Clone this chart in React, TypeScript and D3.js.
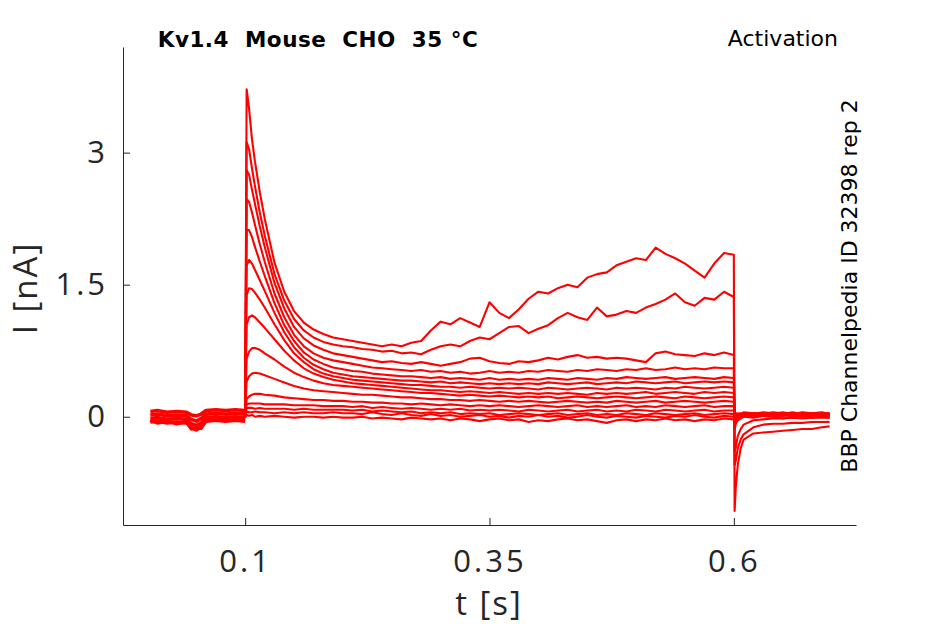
import { useRef, useEffect } from 'react'
import * as d3 from 'd3'

const WIDTH = 945
const HEIGHT = 624
const PLOT = { left: 123, right: 856, top: 47, bottom: 525 }

const X_TICKS = [0.1, 0.35, 0.6]
const Y_TICKS = [0, 1.5, 3]

// holding period before the step (s)
const PRE_T = [0.003, 0.01, 0.02, 0.03, 0.04, 0.045, 0.05, 0.055, 0.06, 0.07, 0.08, 0.09, 0.1]
// test pulse 0.1 .. 0.6 s
const STEP_T = [
  0.1, 0.1015, 0.104, 0.107, 0.11, 0.115, 0.12, 0.13, 0.14, 0.15, 0.16, 0.17, 0.18, 0.19, 0.2,
  0.21, 0.22, 0.23, 0.24, 0.25, 0.26, 0.27, 0.28, 0.29, 0.3, 0.31, 0.32, 0.33, 0.34, 0.35, 0.36, 0.37, 0.38, 0.39, 0.4,
  0.41, 0.42, 0.43, 0.44, 0.45, 0.46, 0.47, 0.48, 0.49, 0.5, 0.51, 0.52, 0.53, 0.54, 0.55, 0.56, 0.57, 0.58, 0.59, 0.6,
]
// tail currents after the pulse
const TAIL_T = [0.6008, 0.602, 0.604, 0.607, 0.61, 0.62, 0.63, 0.64, 0.65, 0.66, 0.67, 0.68, 0.69, 0.698]

// baseline noise before the step (nA)
const base1 = [0.06, 0.07, 0.05, 0.06, 0.05, 0.02, 0.01, 0.03, 0.07, 0.08, 0.07, 0.08, 0.07]
const base2 = [0.02, 0.03, 0.01, 0.02, 0.01, -0.03, -0.05, -0.02, 0.03, 0.04, 0.03, 0.04, 0.03]
const base3 = [-0.02, -0.01, -0.03, -0.02, -0.03, -0.08, -0.1, -0.07, -0.01, 0.0, -0.01, 0.0, -0.01]
const base4 = [-0.06, -0.05, -0.07, -0.06, -0.07, -0.12, -0.15, -0.11, -0.05, -0.04, -0.05, -0.04, -0.05]
const base5 = [-0.04, -0.07, -0.05, -0.08, -0.06, -0.14, -0.13, -0.13, -0.04, -0.02, -0.03, -0.02, -0.03]

// step currents (nA), one per sweep
const sweep01 = [
  0.02, 3.72, 3.5, 3.15, 2.9, 2.55, 2.25, 1.75, 1.42, 1.2, 1.07, 0.99, 0.94, 0.9, 0.88,
  0.86, 0.84, 0.82, 0.8, 0.82, 0.8, 0.84, 0.86, 0.98, 1.08, 1.05, 1.12, 1.07, 1.02, 1.3, 1.18, 1.12, 1.22, 1.34, 1.42,
  1.4, 1.46, 1.5, 1.47, 1.58, 1.62, 1.64, 1.72, 1.76, 1.8, 1.78, 1.92, 1.85, 1.8, 1.74, 1.66, 1.58, 1.74, 1.86, 1.84,
]
const sweep02 = [
  0.0, 3.12, 3.04, 2.82, 2.62, 2.32, 2.06, 1.62, 1.32, 1.11, 0.98, 0.9, 0.85, 0.82, 0.8,
  0.79, 0.77, 0.76, 0.74, 0.75, 0.72, 0.73, 0.71, 0.76, 0.8, 0.82, 0.8, 0.86, 0.9, 0.88, 0.95, 1.02, 1.03, 0.95, 1.0,
  1.04, 1.12, 1.18, 1.13, 1.1, 1.24, 1.14, 1.16, 1.2, 1.18, 1.24, 1.28, 1.33, 1.4, 1.3, 1.26, 1.35, 1.33, 1.42, 1.36,
]
const sweep03 = [
  0.01, 2.8, 2.75, 2.58, 2.42, 2.16, 1.93, 1.52, 1.23, 1.02, 0.89, 0.81, 0.76, 0.72, 0.7,
  0.68, 0.66, 0.64, 0.62, 0.63, 0.61, 0.6, 0.62, 0.6, 0.58, 0.6, 0.62, 0.66, 0.67, 0.63, 0.61, 0.6, 0.63, 0.62, 0.64,
  0.67, 0.65, 0.68, 0.7, 0.67, 0.68, 0.66, 0.67, 0.66, 0.64, 0.62, 0.72, 0.74, 0.71, 0.7, 0.69, 0.72, 0.7, 0.73, 0.7,
]
const sweep04 = [
  0.03, 2.47, 2.44, 2.32, 2.18, 1.96, 1.76, 1.4, 1.13, 0.93, 0.8, 0.72, 0.67, 0.64, 0.62,
  0.6, 0.58, 0.56, 0.55, 0.54, 0.53, 0.52, 0.53, 0.51, 0.52, 0.5, 0.51, 0.49, 0.5, 0.52, 0.5, 0.51, 0.5, 0.52, 0.51,
  0.53, 0.52, 0.51, 0.53, 0.52, 0.54, 0.53, 0.52, 0.54, 0.53, 0.55, 0.53, 0.54, 0.56, 0.54, 0.55, 0.54, 0.56, 0.55, 0.55,
]
const sweep05 = [
  -0.01, 2.12, 2.12, 2.04, 1.93, 1.76, 1.6, 1.29, 1.04, 0.86, 0.73, 0.65, 0.6, 0.56, 0.54,
  0.52, 0.51, 0.49, 0.48, 0.47, 0.46, 0.46, 0.45, 0.44, 0.45, 0.43, 0.44, 0.43, 0.42, 0.44, 0.42, 0.43, 0.42, 0.43, 0.42,
  0.44, 0.43, 0.42, 0.44, 0.43, 0.42, 0.44, 0.43, 0.45, 0.44, 0.43, 0.44, 0.45, 0.43, 0.44, 0.45, 0.44, 0.43, 0.45, 0.44,
]
const sweep06 = [
  0.02, 1.72, 1.78, 1.74, 1.67, 1.55, 1.43, 1.18, 0.96, 0.79, 0.67, 0.59, 0.54, 0.5, 0.48,
  0.46, 0.45, 0.44, 0.43, 0.42, 0.41, 0.41, 0.4, 0.39, 0.4, 0.38, 0.39, 0.38, 0.37, 0.38, 0.37, 0.38, 0.37, 0.38, 0.37,
  0.39, 0.38, 0.37, 0.38, 0.39, 0.37, 0.38, 0.39, 0.38, 0.4, 0.39, 0.38, 0.39, 0.4, 0.38, 0.39, 0.4, 0.39, 0.4, 0.39,
]
const sweep07 = [
  0.0, 1.38, 1.46, 1.45, 1.41, 1.33, 1.24, 1.05, 0.87, 0.72, 0.62, 0.54, 0.49, 0.46, 0.44,
  0.42, 0.41, 0.4, 0.39, 0.38, 0.37, 0.36, 0.36, 0.35, 0.34, 0.34, 0.33, 0.34, 0.33, 0.32, 0.33, 0.32, 0.33, 0.32, 0.31,
  0.33, 0.32, 0.31, 0.32, 0.33, 0.32, 0.31, 0.33, 0.32, 0.33, 0.32, 0.31, 0.33, 0.32, 0.34, 0.33, 0.32, 0.33, 0.34, 0.33,
]
const sweep08 = [
  0.04, 1.05, 1.13, 1.15, 1.13, 1.07, 1.01, 0.88, 0.75, 0.64, 0.55, 0.49, 0.45, 0.42, 0.4,
  0.38, 0.37, 0.36, 0.35, 0.34, 0.33, 0.32, 0.31, 0.3, 0.3, 0.29, 0.28, 0.29, 0.28, 0.27, 0.28, 0.27, 0.26, 0.27, 0.26,
  0.27, 0.26, 0.27, 0.26, 0.25, 0.27, 0.26, 0.27, 0.26, 0.27, 0.28, 0.26, 0.27, 0.28, 0.27, 0.26, 0.28, 0.27, 0.28, 0.27,
]
const sweep09 = [
  0.01, 0.66, 0.74, 0.78, 0.78, 0.76, 0.72, 0.65, 0.57, 0.5, 0.45, 0.41, 0.38, 0.36, 0.35,
  0.34, 0.33, 0.32, 0.31, 0.3, 0.29, 0.28, 0.27, 0.27, 0.26, 0.25, 0.24, 0.25, 0.24, 0.23, 0.24, 0.23, 0.22, 0.23, 0.22,
  0.23, 0.21, 0.22, 0.23, 0.22, 0.21, 0.22, 0.23, 0.22, 0.21, 0.22, 0.23, 0.22, 0.21, 0.23, 0.22, 0.21, 0.22, 0.23, 0.22,
]
const sweep10 = [
  0.03, 0.4, 0.46, 0.49, 0.5, 0.49, 0.47, 0.43, 0.39, 0.35, 0.32, 0.3, 0.29, 0.28, 0.27,
  0.26, 0.25, 0.25, 0.24, 0.23, 0.22, 0.22, 0.21, 0.2, 0.2, 0.19, 0.19, 0.18, 0.19, 0.18, 0.17, 0.18, 0.17, 0.18, 0.17,
  0.16, 0.17, 0.18, 0.17, 0.16, 0.17, 0.16, 0.18, 0.17, 0.16, 0.17, 0.18, 0.16, 0.17, 0.18, 0.17, 0.16, 0.17, 0.18, 0.17,
]
const sweep11 = [
  0.0, 0.2, 0.23, 0.25, 0.26, 0.26, 0.25, 0.24, 0.22, 0.21, 0.2, 0.19, 0.19, 0.18, 0.18,
  0.17, 0.17, 0.16, 0.16, 0.15, 0.15, 0.14, 0.15, 0.14, 0.13, 0.14, 0.13, 0.12, 0.13, 0.12, 0.13, 0.12, 0.11, 0.12, 0.13,
  0.12, 0.11, 0.12, 0.13, 0.11, 0.12, 0.11, 0.12, 0.13, 0.11, 0.12, 0.11, 0.13, 0.12, 0.11, 0.12, 0.13, 0.11, 0.12, 0.12,
]
const sweep12 = [
  0.02, 0.14, 0.15, 0.15, 0.15, 0.15, 0.14, 0.14, 0.14, 0.13, 0.13, 0.13, 0.12, 0.12, 0.12,
  0.11, 0.12, 0.1, 0.11, 0.1, 0.09, 0.1, 0.09, 0.08, 0.09, 0.08, 0.09, 0.07, 0.08, 0.07, 0.08, 0.07, 0.06, 0.08, 0.07,
  0.06, 0.07, 0.08, 0.06, 0.07, 0.08, 0.06, 0.07, 0.06, 0.08, 0.07, 0.06, 0.08, 0.07, 0.06, 0.07, 0.08, 0.06, 0.07, 0.07,
]
const sweep13 = [
  0.01, 0.1, 0.1, 0.1, 0.09, 0.1, 0.09, 0.09, 0.09, 0.08, 0.09, 0.08, 0.08, 0.08, 0.08,
  0.07, 0.08, 0.06, 0.07, 0.06, 0.05, 0.06, 0.04, 0.05, 0.04, 0.05, 0.03, 0.04, 0.03, 0.04, 0.02, 0.03, 0.04, 0.03, 0.02,
  0.03, 0.04, 0.02, 0.03, 0.04, 0.02, 0.03, 0.02, 0.04, 0.03, 0.02, 0.04, 0.03, 0.02, 0.03, 0.04, 0.02, 0.03, 0.04, 0.03,
]
const sweep14 = [
  -0.01, 0.06, 0.05, 0.05, 0.06, 0.05, 0.05, 0.04, 0.05, 0.04, 0.05, 0.04, 0.04, 0.05, 0.04,
  0.04, 0.03, 0.05, 0.03, 0.02, 0.04, 0.02, 0.01, 0.03, 0.01, 0.02, 0.0, 0.01, 0.02, 0.0, 0.01, -0.01, 0.01, 0.0, 0.02,
  0.0, 0.01, -0.01, 0.0, 0.02, 0.0, -0.01, 0.01, 0.0, -0.01, 0.01, 0.0, -0.01, 0.01, 0.0, 0.02, 0.0, -0.01, 0.01, 0.0,
]
const sweep15 = [
  0.0, 0.02, 0.01, 0.02, 0.0, 0.01, 0.0, 0.01, 0.0, -0.01, 0.0, 0.0, -0.01, 0.0, -0.01,
  -0.01, 0.0, -0.02, -0.01, -0.02, -0.03, -0.01, -0.02, -0.03, -0.02, -0.04, -0.02, -0.03, -0.05, -0.03, -0.02, -0.04, -0.03, -0.06, -0.04,
  -0.05, -0.03, -0.02, -0.04, -0.03, -0.05, -0.07, -0.04, -0.03, -0.05, -0.03, -0.04, -0.02, -0.04, -0.03, -0.05, -0.03, -0.04, -0.02, -0.03,
]

// tail currents (nA), same sweep order
const tail01 = [-1.07, -0.8, -0.55, -0.36, -0.26, -0.19, -0.18, -0.17, -0.16, -0.15, -0.14, -0.14, -0.12, -0.11]
const tail02 = [-0.55, -0.5, -0.36, -0.26, -0.2, -0.12, -0.09, -0.08, -0.08, -0.07, -0.07, -0.06, -0.06, -0.06]
const tail03 = [-0.4, -0.35, -0.22, -0.14, -0.09, -0.04, -0.03, -0.02, -0.02, -0.01, -0.02, -0.01, -0.01, -0.01]
const tail04 = [-0.15, -0.08, -0.04, -0.02, 0.0, 0.01, 0.02, 0.01, 0.03, 0.02, 0.01, 0.03, 0.02, 0.02]
const tail05 = [-0.1, -0.05, -0.02, 0.0, 0.01, 0.02, 0.01, 0.03, 0.02, 0.01, 0.02, 0.03, 0.01, 0.02]
const tail06 = [-0.06, -0.03, 0.0, 0.01, 0.02, 0.01, 0.03, 0.02, 0.01, 0.03, 0.02, 0.01, 0.03, 0.01]
const tail07 = [-0.04, -0.01, 0.01, 0.02, 0.03, 0.02, 0.01, 0.03, 0.04, 0.02, 0.03, 0.02, 0.04, 0.03]
const tail08 = [-0.02, 0.0, 0.02, 0.03, 0.02, 0.04, 0.03, 0.02, 0.03, 0.04, 0.02, 0.03, 0.04, 0.02]
const tail09 = [0.0, 0.02, 0.03, 0.02, 0.04, 0.03, 0.02, 0.04, 0.03, 0.02, 0.04, 0.03, 0.02, 0.03]
const tail10 = [0.01, 0.03, 0.02, 0.04, 0.03, 0.02, 0.04, 0.03, 0.05, 0.03, 0.02, 0.04, 0.03, 0.04]
const tail11 = [0.02, 0.04, 0.03, 0.02, 0.04, 0.03, 0.05, 0.04, 0.03, 0.05, 0.03, 0.04, 0.05, 0.03]
const tail12 = [0.03, 0.02, 0.04, 0.03, 0.05, 0.04, 0.03, 0.05, 0.04, 0.03, 0.05, 0.04, 0.03, 0.04]
const tail13 = [0.02, 0.03, 0.01, 0.03, 0.02, 0.04, 0.02, 0.03, 0.01, 0.04, 0.02, 0.03, 0.02, 0.03]
const tail14 = [0.0, 0.01, 0.02, 0.0, 0.01, 0.03, 0.01, 0.0, 0.02, 0.01, 0.0, 0.02, 0.01, 0.0]
const tail15 = [-0.01, 0.0, -0.01, 0.01, 0.0, -0.01, 0.01, 0.0, -0.02, 0.0, 0.01, -0.01, 0.0, -0.01]

const BASELINES = [base1, base2, base3, base4, base5]
const STEPS = [sweep01, sweep02, sweep03, sweep04, sweep05, sweep06, sweep07, sweep08, sweep09, sweep10, sweep11, sweep12, sweep13, sweep14, sweep15]
const TAILS = [tail01, tail02, tail03, tail04, tail05, tail06, tail07, tail08, tail09, tail10, tail11, tail12, tail13, tail14, tail15]

const RED = '#ff0000'
const INK = '#262626'
const TICK_FONT = '"Open Sans", "Noto Sans", sans-serif'
const TEXT_FONT = '"DejaVu Sans", sans-serif'

export default function App() {
  const xAxisRef = useRef<SVGGElement>(null)
  const yAxisRef = useRef<SVGGElement>(null)

  const x = d3.scaleLinear().domain([-0.025, 0.725]).range([PLOT.left, PLOT.right])
  const y = d3.scaleLinear().domain([-1.23, 4.2]).range([PLOT.bottom, PLOT.top])
  const line = d3
    .line<[number, number]>()
    .x((d) => x(d[0]))
    .y((d) => y(d[1]))

  useEffect(() => {
    const gx = d3.select(xAxisRef.current!)
    gx.selectAll('*').remove()
    gx.call(
      d3
        .axisBottom(x)
        .tickValues(X_TICKS)
        .tickFormat((d) => String(d))
        .tickSizeInner(-7)
        .tickSizeOuter(0)
        .tickPadding(25),
    )
    const gy = d3.select(yAxisRef.current!)
    gy.selectAll('*').remove()
    gy.call(
      d3
        .axisLeft(y)
        .tickValues(Y_TICKS)
        .tickFormat((d) => String(d))
        .tickSizeInner(-7)
        .tickSizeOuter(0)
        .tickPadding(15),
    )
    for (const g of [gx, gy]) {
      g.select('.domain').attr('stroke', INK)
      g.selectAll('line').attr('stroke', INK)
      g.selectAll('text')
        .attr('fill', INK)
        .attr('font-family', TICK_FONT)
        .attr('font-size', 31)
        .attr('letter-spacing', 3)
    }
  }, [])

  return (
    <svg
      width={WIDTH}
      height={HEIGHT}
      style={{ position: 'absolute', left: 0, top: 0, background: '#fff' }}
    >
      <g fill="none" stroke={RED} strokeLinejoin="round">
        {BASELINES.map((b, i) => (
          <path
            key={`b${i}`}
            d={line(b.map((v, j) => [PRE_T[j], v] as [number, number])) ?? ''}
            strokeWidth={3.6}
          />
        ))}
        {STEPS.map((s, i) => {
          const pts: [number, number][] = [
            ...s.map((v, j) => [STEP_T[j], v] as [number, number]),
            ...TAILS[i].map((v, j) => [TAIL_T[j], v] as [number, number]),
          ]
          return <path key={`s${i}`} d={line(pts) ?? ''} strokeWidth={2.1} />
        })}
      </g>

      <g ref={xAxisRef} transform={`translate(0,${PLOT.bottom})`} />
      <g ref={yAxisRef} transform={`translate(${PLOT.left},0)`} />

      <text
        x={489}
        y={615}
        textAnchor="middle"
        fontFamily={TICK_FONT}
        fontSize={33}
        letterSpacing={2}
        fill={INK}
      >
        t [s]
      </text>
      <text
        transform="translate(37,288) rotate(-90)"
        textAnchor="middle"
        fontFamily={TICK_FONT}
        fontSize={33}
        letterSpacing={2}
        fill={INK}
      >
        I [nA]
      </text>

      <text
        x={318}
        y={47}
        textAnchor="middle"
        fontFamily={TEXT_FONT}
        fontWeight="bold"
        fontSize={21.5}
        letterSpacing={0.5}
        fill="#000"
        style={{ whiteSpace: 'pre' }}
      >
        {'Kv1.4  Mouse  CHO  35 °C'}
      </text>
      <text x={838} y={46} textAnchor="end" fontFamily={TEXT_FONT} fontSize={22} fill="#000">
        Activation
      </text>
      <text
        transform="translate(857,286) rotate(-90)"
        textAnchor="middle"
        fontFamily={TEXT_FONT}
        fontSize={22}
        fill="#000"
      >
        BBP Channelpedia ID 32398 rep 2
      </text>
    </svg>
  )
}
